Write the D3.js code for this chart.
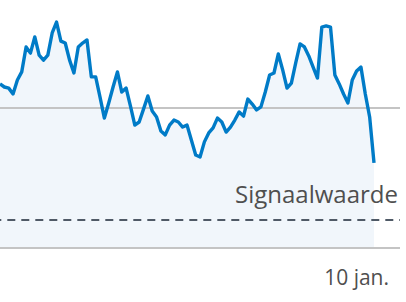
<!DOCTYPE html>
<html lang="nl">
<head>
<meta charset="utf-8">
<script src="https://d3js.org/d3.v7.min.js"></script>
<style>
  body { margin: 0; background: #fff; }
  text { font-family: "Open Sans", sans-serif; fill: #4f4f4f; }
</style>
</head>
<body>
<script>
// daily values, 20 okt. .. 14 jan.
var values = [586, 575, 571, 550, 600, 629, 718, 696, 754, 689,
              671, 689, 768, 807, 739, 732, 671, 625, 718, 732,
              743, 611, 611, 539, 464, 518, 575, 629, 557, 571,
              507, 439, 450, 496, 543, 489, 468, 418, 404, 439,
              457, 450, 432, 439, 386, 332, 325, 379, 411, 429,
              464, 450, 414, 432, 457, 486, 471, 532, 514, 493,
              504, 557, 618, 625, 693, 636, 571, 589, 661, 729,
              718, 686, 646, 607, 789, 793, 789, 618, 586, 550,
              518, 600, 632, 646, 550, 468, 304];
var startDate = new Date(2021, 9, 20);
var gridValues = [500];
var signalValue = 100;
var signalLabel = "Signaalwaarde";
var tickDates = [new Date(2022, 0, 10)];
var monthsShort = ["jan.", "feb.", "mrt.", "apr.", "mei", "jun.", "jul.", "aug.", "sep.", "okt.", "nov.", "dec."];

var width = 406, height = 302;
var dates = values.map(function(v, i) { return d3.timeDay.offset(startDate, i); });
var data = values.map(function(v, i) { return { date: dates[i], value: v }; });

var svg = d3.select("body").append("svg")
  .attr("width", width)
  .attr("height", height);

var x = d3.scaleTime()
  .domain([dates[0], dates[dates.length - 1]])
  .range([0, 374]);

var y = d3.scaleLinear()
  .domain([0, 850])
  .range([248, 10]);

var plotRight = 400;

// area under the line
var area = d3.area()
  .x(function(d) { return x(d.date); })
  .y0(y(0))
  .y1(function(d) { return y(d.value); });

svg.append("path")
  .datum(data)
  .attr("d", area)
  .attr("fill", "#f1f6fb");

// gridline
svg.selectAll("line.grid")
  .data(gridValues)
  .enter().append("line")
  .attr("class", "grid")
  .attr("x1", 0).attr("x2", plotRight)
  .attr("y1", function(d) { return y(d); })
  .attr("y2", function(d) { return y(d); })
  .attr("stroke", "#c4c4c4")
  .attr("stroke-width", 2);

// baseline
svg.append("line")
  .attr("x1", 0).attr("x2", plotRight)
  .attr("y1", y(0)).attr("y2", y(0))
  .attr("stroke", "#c4c4c4")
  .attr("stroke-width", 2);

// signal value
svg.append("line")
  .attr("x1", 0).attr("x2", plotRight)
  .attr("y1", y(signalValue)).attr("y2", y(signalValue))
  .attr("stroke", "#4f5966")
  .attr("stroke-width", 2)
  .attr("stroke-dasharray", "8,6")
  .attr("stroke-dashoffset", 6.7);

svg.append("text")
  .attr("x", 398)
  .attr("y", y(signalValue) - 17)
  .attr("text-anchor", "end")
  .style("font-size", "24px")
  .text(signalLabel);

// line
var line = d3.line()
  .x(function(d) { return x(d.date); })
  .y(function(d) { return y(d.value); });

svg.append("path")
  .datum(data)
  .attr("d", line)
  .attr("fill", "none")
  .attr("stroke", "#007bc7")
  .attr("stroke-width", 3.4)
  .attr("stroke-linejoin", "round");

// x axis labels
svg.selectAll("text.tick")
  .data(tickDates)
  .enter().append("text")
  .attr("class", "tick")
  .attr("x", function(d) { return x(d); })
  .attr("y", 285)
  .attr("text-anchor", "middle")
  .style("font-size", "21px")
  .text(function(d) { return d.getDate() + " " + monthsShort[d.getMonth()]; });
</script>
</body>
</html>
